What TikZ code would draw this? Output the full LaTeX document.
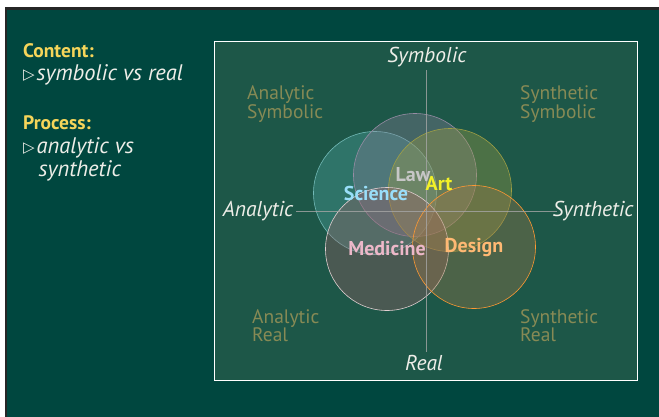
\documentclass[tikz,border=0pt]{standalone}
\usepackage{fontspec}
\setmainfont{PT Sans}
\newfontfamily\symfont{DejaVu Sans}
\definecolor{bgc}{HTML}{00473F}
\definecolor{innerc}{HTML}{1D5748}
\definecolor{yel}{HTML}{F5D55A}
\definecolor{txt}{HTML}{EEEEE8}
\definecolor{corner}{HTML}{878A55}
\definecolor{scic}{HTML}{4FA8A4}
\definecolor{lawc}{HTML}{8A7F9A}
\definecolor{artc}{HTML}{A0A045}
\definecolor{medc}{HTML}{9A5E66}
\definecolor{desc}{HTML}{A07A48}
\tikzset{
  heading/.style={font=\fontsize{19.5}{22}\selectfont\bfseries, text=yel, anchor=base west, inner sep=0pt},
  bullet/.style={font=\fontsize{22.5}{24}\selectfont\itshape, text=txt, anchor=base west, inner sep=0pt},
  axislabel/.style={font=\fontsize{21.5}{24}\selectfont\itshape, text=txt, inner sep=1pt},
  cornerlabel/.style={font=\fontsize{19.5}{18.5}\selectfont, text=corner, align=left, anchor=north west, inner sep=0pt},
  disc/.style={circle, minimum size=123pt, inner sep=0pt, fill opacity=0.36, line width=0.6pt},
  field/.style={font=\fontsize{20}{22}\selectfont\bfseries, inner sep=0pt},
  axisline/.style={draw=gray!70!white, line width=0.8pt, opacity=0.8}
}
\begin{document}
\begin{tikzpicture}[x=1pt,y=-1pt]
\useasboundingbox (0,0) rectangle (659,416);
\fill[white] (-2,-2) rectangle (662,420);
\fill[black!85] (5,7) rectangle (662,420);
\fill[bgc] (7,10) rectangle (662,420);
% left panel
\node[heading] (c1) at (23,57) {Content:};
\node[bullet] (b1) at (23,80.5) {\raisebox{1.5pt}{\symfont\fontsize{15}{16}\selectfont ▷}\hspace{2pt}symbolic vs real};
\node[heading] (c2) at (23,129) {Process:};
\node[bullet] (b2) at (23,153.5) {\raisebox{1.5pt}{\symfont\fontsize{15}{16}\selectfont ▷}\hspace{2pt}analytic vs};
\node[bullet] (b3) at (38.5,176.5) {synthetic};
% inner frame
\node[draw=white, line width=0.9pt, fill=innerc, minimum width=423pt, minimum height=339pt, inner sep=0pt] (frame) at (426,210.5) {};
% circles
\node[disc, draw=scic!80!white, fill=scic] (sci) at (375,193) {};
\node[disc, draw=lawc!90!white, fill=lawc] (law) at (415,175) {};
\node[disc, draw=artc, fill=artc] (art) at (450,190) {};
\node[disc, draw=medc!30!white, fill=medc] (med) at (387,249) {};
\node[disc, draw=orange!80!white, fill=desc] (des) at (474,247) {};
% axes
\coordinate (top) at (426,70);
\coordinate (bot) at (426,352);
\coordinate (lft) at (296,211);
\coordinate (rgt) at (557,211);
\draw[axisline] (top) -- (bot);
\draw[axisline] (lft) -- (rgt);
\node[axislabel] (sym) at (427,57) {Symbolic};
\node[axislabel] (real) at (424,363) {Real};
\node[axislabel] (ana) at (258,211) {Analytic};
\node[axislabel] (syn) at (593,211) {Synthetic};
% corner labels
\node[cornerlabel] (as) at (247,85.5) {Analytic\\Symbolic};
\node[cornerlabel] (ss) at (520,85.5) {Synthetic\\Symbolic};
\node[cornerlabel] (ar) at (252,309) {Analytic\\Real};
\node[cornerlabel] (sr) at (520,309) {Synthetic\\Real};
% field labels
\node[field, text=black!22] (lawt) at (413,175) {Law};
\node[field, text=yellow!85!white!95!green] (artt) at (439,184) {Art};
\node[field, text=cyan!40!white] (scit) at (376,193) {Science};
\node[field, text=pink!80!violet!70!white] (medt) at (387,249) {Medicine};
\node[field, text=orange!55!white] (dest) at (474,248) {Design};
\end{tikzpicture}
\end{document}
